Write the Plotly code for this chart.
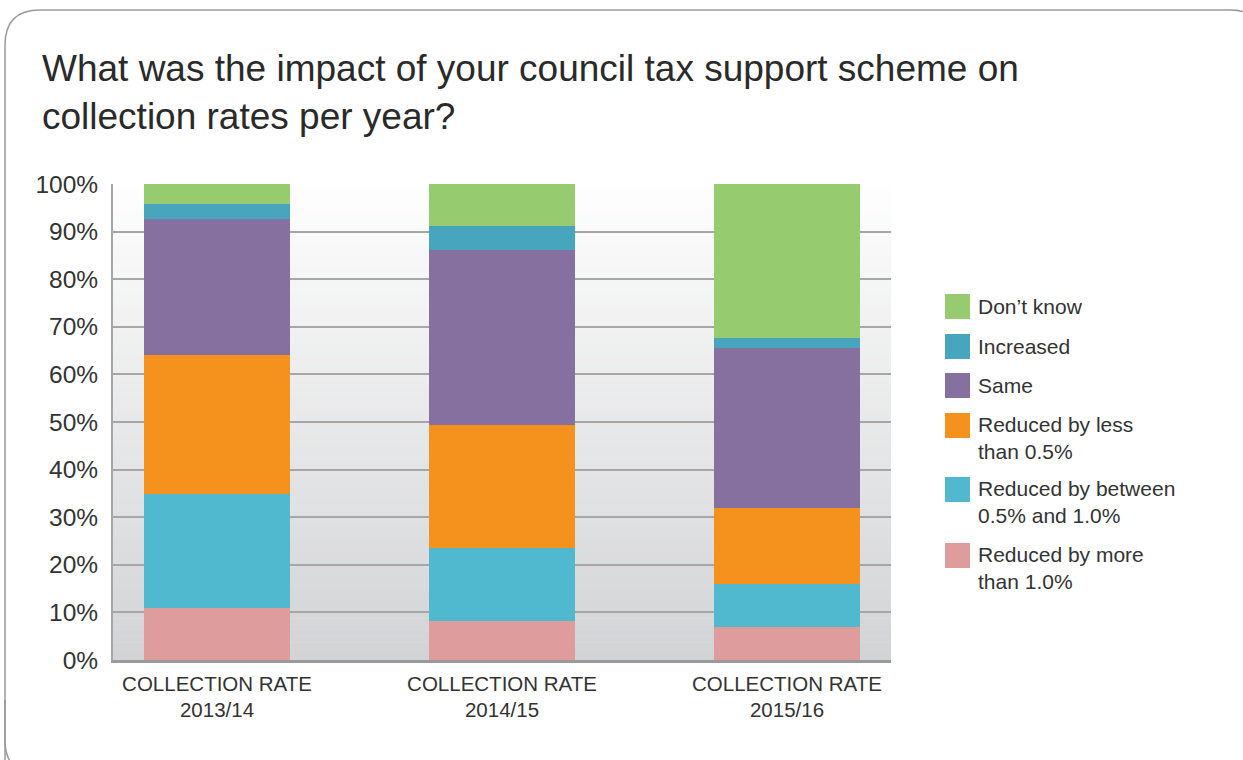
import plotly.graph_objects as go

# ---------------- data ----------------
categories = ["COLLECTION RATE<br>2013/14", "COLLECTION RATE<br>2014/15", "COLLECTION RATE<br>2015/16"]
series_names = ["Reduced by more<br>than 1.0%", "Reduced by between<br>0.5% and 1.0%",
                "Reduced by less<br>than 0.5%", "Same", "Increased", "Don\u2019t know"]
reduced_more = [11.0, 8.1, 7.0]
reduced_between = [23.9, 15.4, 8.9]
reduced_less = [29.2, 25.9, 16.0]
same = [28.5, 36.8, 33.7]
increased = [3.1, 4.9, 2.1]
dont_know = [4.3, 8.9, 32.3]
y_ticks = [0, 10, 20, 30, 40, 50, 60, 70, 80, 90, 100]
y_tick_labels = ["0%", "10%", "20%", "30%", "40%", "50%", "60%", "70%", "80%", "90%", "100%"]
title_text = "What was the impact of your council tax support scheme on<br>collection rates per year?"

colors = ["#de9c9d", "#50b9cf", "#f5921e", "#85709f", "#47a5bd", "#97cb6f"]
values = [reduced_more, reduced_between, reduced_less, same, increased, dont_know]

# ---------------- layout geometry ----------------
W, H = 1243, 760
ML, MR, MT, MB = 113, 352, 184, 100
PW = W - ML - MR
PH = H - MT - MB


def px(x):
    return (x - ML) / PW


def py(y):
    return (H - MB - y) / PH


FONT = "Liberation Sans, Arial, Helvetica, sans-serif"

fig = go.Figure()
for name, vals, col in zip(series_names, values, colors):
    fig.add_trace(go.Bar(
        x=categories, y=vals, name=name.replace("<br>", " "),
        marker=dict(color=col, line=dict(width=0)),
        width=0.512, showlegend=False,
    ))

shapes = []
# gradient background of the plot area
N = 80
top_c = (254, 254, 254)
bot_c = (210, 211, 213)
for i in range(N):
    t = (i + 0.5) / N
    c = tuple(int(round(top_c[k] + (bot_c[k] - top_c[k]) * t)) for k in range(3))
    shapes.append(dict(type="rect", xref="x domain", yref="y domain",
                       x0=0, x1=1, y0=1 - (i + 1) / N - 0.001, y1=1 - i / N,
                       fillcolor="rgb(%d,%d,%d)" % c, line=dict(width=0), layer="below"))

# outer rounded frame
path = ("M {a},{b} L {a},{c} Q {a},{d} {e},{d} L {f},{d} Q {g},{d} {g},{c} L {g},{b}").format(
    a=px(5), b=py(800), c=py(45), d=py(10), e=px(40), f=px(1230), g=px(1265))
path2 = "M {a},{b} L {a},{c} Q {a},{d} {e},{d}".format(
    a=px(5), b=py(700), c=py(740), d=py(775), e=px(40))
shapes.append(dict(type="path", xref="paper", yref="paper", path=path,
                   line=dict(color="#9a9a9a", width=1.5)))
shapes.append(dict(type="path", xref="paper", yref="paper", path=path2,
                   line=dict(color="#9a9a9a", width=1.5)))

# legend (drawn manually to get large swatches)
legend_order = [5, 4, 3, 2, 1, 0]
sq_tops = [294, 334, 373, 413, 477, 543]
annotations = []
LFS = 21
for idx, top in zip(legend_order, sq_tops):
    shapes.append(dict(type="rect", xref="paper", yref="paper",
                       x0=px(945), x1=px(970), y0=py(top + 25), y1=py(top),
                       fillcolor=colors[idx], line=dict(width=0)))
    name = series_names[idx]
    if "<br>" in name:
        annotations.append(dict(x=px(976), y=py(top + 12.5 - 14.5), xref="paper", yref="paper",
                                text=name, showarrow=False, xanchor="left", yanchor="top",
                                align="left", font=dict(family=FONT, size=LFS, color="#333333")))
    else:
        annotations.append(dict(x=px(976), y=py(top + 12.5), xref="paper", yref="paper",
                                text=name, showarrow=False, xanchor="left", yanchor="middle",
                                align="left", font=dict(family=FONT, size=LFS, color="#333333")))

# title as a paper annotation (precise placement)
annotations.append(dict(x=px(40), y=py(46), xref="paper", yref="paper",
                        text=title_text, showarrow=False, xanchor="left", yanchor="top",
                        align="left", font=dict(family=FONT, size=37, color="#2a2a2a")))

fig.update_layout(
    width=W, height=H,
    margin=dict(l=ML, r=MR, t=MT, b=MB, pad=0),
    paper_bgcolor="white", plot_bgcolor="rgba(0,0,0,0)",
    barmode="stack", bargap=0,
    shapes=shapes, annotations=annotations,
    xaxis=dict(range=[-0.365, 2.365], showgrid=False, zeroline=False,
               showline=True, linecolor="#9a9a9a", linewidth=3,
               ticks="outside", ticklen=3, tickcolor="rgba(0,0,0,0)",
               tickfont=dict(family=FONT, size=20.5, color="#333333")),
    yaxis=dict(range=[0, 100], tickvals=y_ticks, ticktext=y_tick_labels,
               showgrid=True, gridcolor="#a6a6a6", gridwidth=1.5, zeroline=False,
               showline=True, linecolor="#a6a6a6", linewidth=2,
               ticks="outside", ticklen=8, tickcolor="rgba(0,0,0,0)",
               tickfont=dict(family=FONT, size=24.5, color="#333333")),
)

fig.write_html("out.html")
